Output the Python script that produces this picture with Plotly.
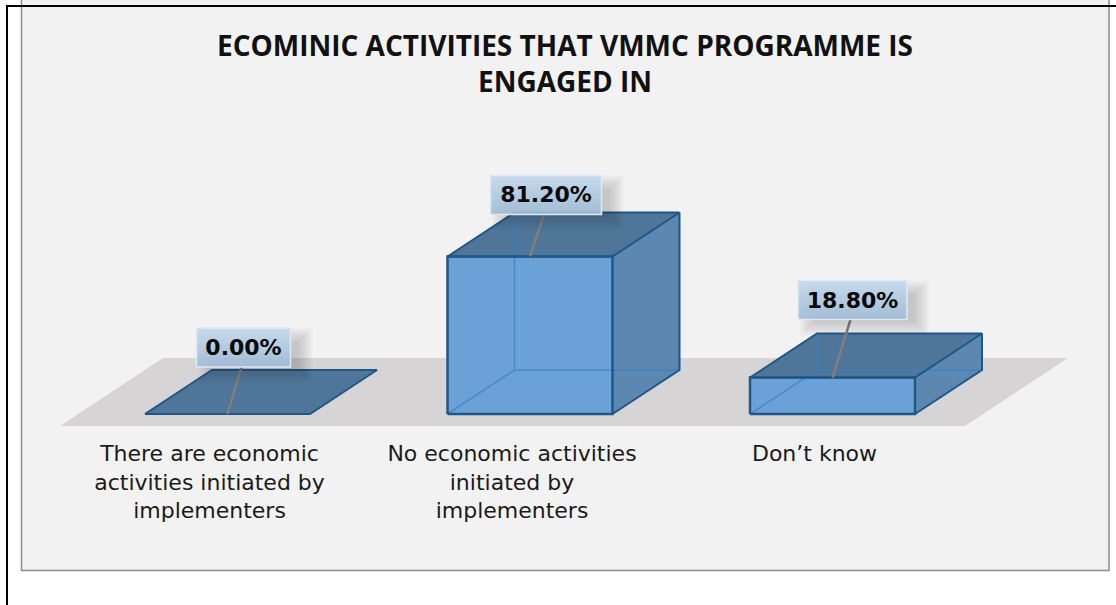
import plotly.graph_objects as go

categories = ["There are economic<br>activities initiated by<br>implementers",
              "No economic activities<br>initiated by<br>implementers",
              "Don\u2019t know"]
values = [0.0, 81.2, 18.8]
value_labels = ["0.00%", "81.20%", "18.80%"]
title_text = "ECOMINIC ACTIVITIES THAT VMMC PROGRAMME IS<br>ENGAGED IN"

W, H = 1116, 605
PX_PER_CAT = 302.5      # px between bar centres
PX_PER_PCT = 1.94       # px per percentage point
X0_PX, Y0_PX = 227.5, 414

xr = [-X0_PX / PX_PER_CAT, (W - X0_PX) / PX_PER_CAT]
yr = [-(H - Y0_PX) / PX_PER_PCT, Y0_PX / PX_PER_PCT]

def dx(px): return px / PX_PER_CAT
def dy(px): return px / PX_PER_PCT

half = dx(82.5)
depth_x, depth_y = dx(67), dy(44)
EDGE = "#1f5787"
INNER = "rgba(60,130,195,0.75)"

fig = go.Figure()

def poly(xs, ys, fill=None, line=None, width=0, gradient=None):
    kw = dict(x=xs + xs[:1], y=ys + ys[:1], mode="lines", hoverinfo="skip", showlegend=False)
    if fill or gradient:
        kw["fill"] = "toself"
    if fill:
        kw["fillcolor"] = fill
    if gradient:
        kw["fillgradient"] = dict(type="vertical", colorscale=gradient)
    kw["line"] = dict(color=line or "rgba(0,0,0,0)", width=width)
    fig.add_trace(go.Scatter(**kw))

def seg(xs, ys, color, width):
    fig.add_trace(go.Scatter(x=xs, y=ys, mode="lines", hoverinfo="skip", showlegend=False,
                             line=dict(color=color, width=width)))

# floor
fl, fr = dx(60 - X0_PX), dx(965 - X0_PX)
ff, fb = dy(-12), dy(56)
poly([fl, fr, fr + dx(103), fl + dx(103)], [ff, ff, fb, fb], fill="#d6d4d4")

# boxes
for i, v in enumerate(values):
    l, r = i - half, i + half
    top_l = [l, r, r + depth_x, l + depth_x]
    top_y = [v, v, v + depth_y, v + depth_y]
    poly(top_l, top_y, fill="#4f7699")
    if v > 0:
        poly([r, r + depth_x, r + depth_x, r], [0, depth_y, v + depth_y, v], fill="#5b87b0")
        poly([l, r, r, l], [0, 0, v, v], fill="#6aa2d7")
        seg([l, l + depth_x], [0, depth_y], INNER, 1.5)
        seg([l + depth_x, r + depth_x], [depth_y, depth_y], INNER, 1.5)
        seg([l + depth_x, l + depth_x], [depth_y, v + depth_y], INNER, 1.5)
    # outline
    seg([l, r, r + depth_x, l + depth_x, l], top_y + top_y[:1], EDGE, 2)
    if v > 0:
        seg([l, r, r, l, l], [0, 0, v, v, 0], EDGE, 2.5)
        seg([r, r + depth_x, r + depth_x], [0, depth_y, v + depth_y], EDGE, 2)

# data labels: box offsets from the top of each bar (px)
label_dx = [16, 16, 20]
label_gap = [47, 42, 58]
label_w = [94, 111, 109]
label_h = 39
for i, v in enumerate(values):
    cx = i + dx(label_dx[i])
    hw = dx(label_w[i] / 2)
    bot = v + dy(label_gap[i])
    topv = bot + dy(label_h)
    # leader
    seg([i, cx - dx(2)], [v, bot], "#7f7f7f", 2.5)
    # soft shadow
    for k in range(8):
        grow = 2 * k
        poly([cx - hw + dx(16 - grow), cx + hw + dx(8 + grow), cx + hw + dx(8 + grow), cx - hw + dx(16 - grow)],
             [bot - dy(2 + grow), bot - dy(2 + grow), topv - dy(14 - grow), topv - dy(14 - grow)],
             fill="rgba(40,40,40,0.028)")
    poly([cx - hw, cx + hw, cx + hw, cx - hw], [bot, bot, topv, topv],
         gradient=[[0, "rgba(160,188,214,0.92)"], [1, "rgba(198,218,236,0.97)"]],
         line="#dfe9f3", width=1.5)
    fig.add_trace(go.Scatter(x=[cx], y=[(bot + topv) / 2 - dy(2)], mode="text", text=[value_labels[i]],
                             textposition="middle center", hoverinfo="skip", showlegend=False,
                             textfont=dict(family="DejaVu Sans", size=22, color="#0a0a0a", weight="bold")))

def px_x(p): return p / W
def px_y(p): return 1 - p / H

shapes = [
    dict(type="rect", xref="paper", yref="paper", x0=px_x(21.5), x1=px_x(1109), y0=px_y(570.5), y1=px_y(-5),
         line=dict(color="#8c8c8c", width=1.5), fillcolor="#f2f2f2", layer="below"),
    dict(type="line", xref="paper", yref="paper", x0=px_x(7), x1=px_x(7), y0=0, y1=px_y(5),
         line=dict(color="#000000", width=2), layer="below"),
    dict(type="line", xref="paper", yref="paper", x0=px_x(6), x1=1, y0=px_y(6), y1=px_y(6),
         line=dict(color="#000000", width=2), layer="below"),
]

fig.update_layout(
    width=W, height=H, margin=dict(l=0, r=0, t=0, b=0),
    paper_bgcolor="#ffffff", plot_bgcolor="rgba(0,0,0,0)",
    shapes=shapes, showlegend=False,
    title=dict(text=title_text, x=565 / W, xanchor="center", y=px_y(56), yanchor="top",
               font=dict(family="Open Sans", size=28, color="#111111", weight="bold")),
    xaxis=dict(range=xr, domain=[0, 1], anchor="free", position=px_y(438),
               tickmode="array", tickvals=[i - dx(18) for i in range(len(categories))],
               ticktext=categories, showgrid=False, zeroline=False, showline=False, ticks="",
               tickangle=0, tickfont=dict(family="DejaVu Sans", size=22, color="#1a1a1a")),
    yaxis=dict(range=yr, domain=[0, 1], visible=False, showgrid=False, zeroline=False),
)

fig.write_html("out.html", config={"displayModeBar": False},
               post_script="document.body.style.margin='0';")
